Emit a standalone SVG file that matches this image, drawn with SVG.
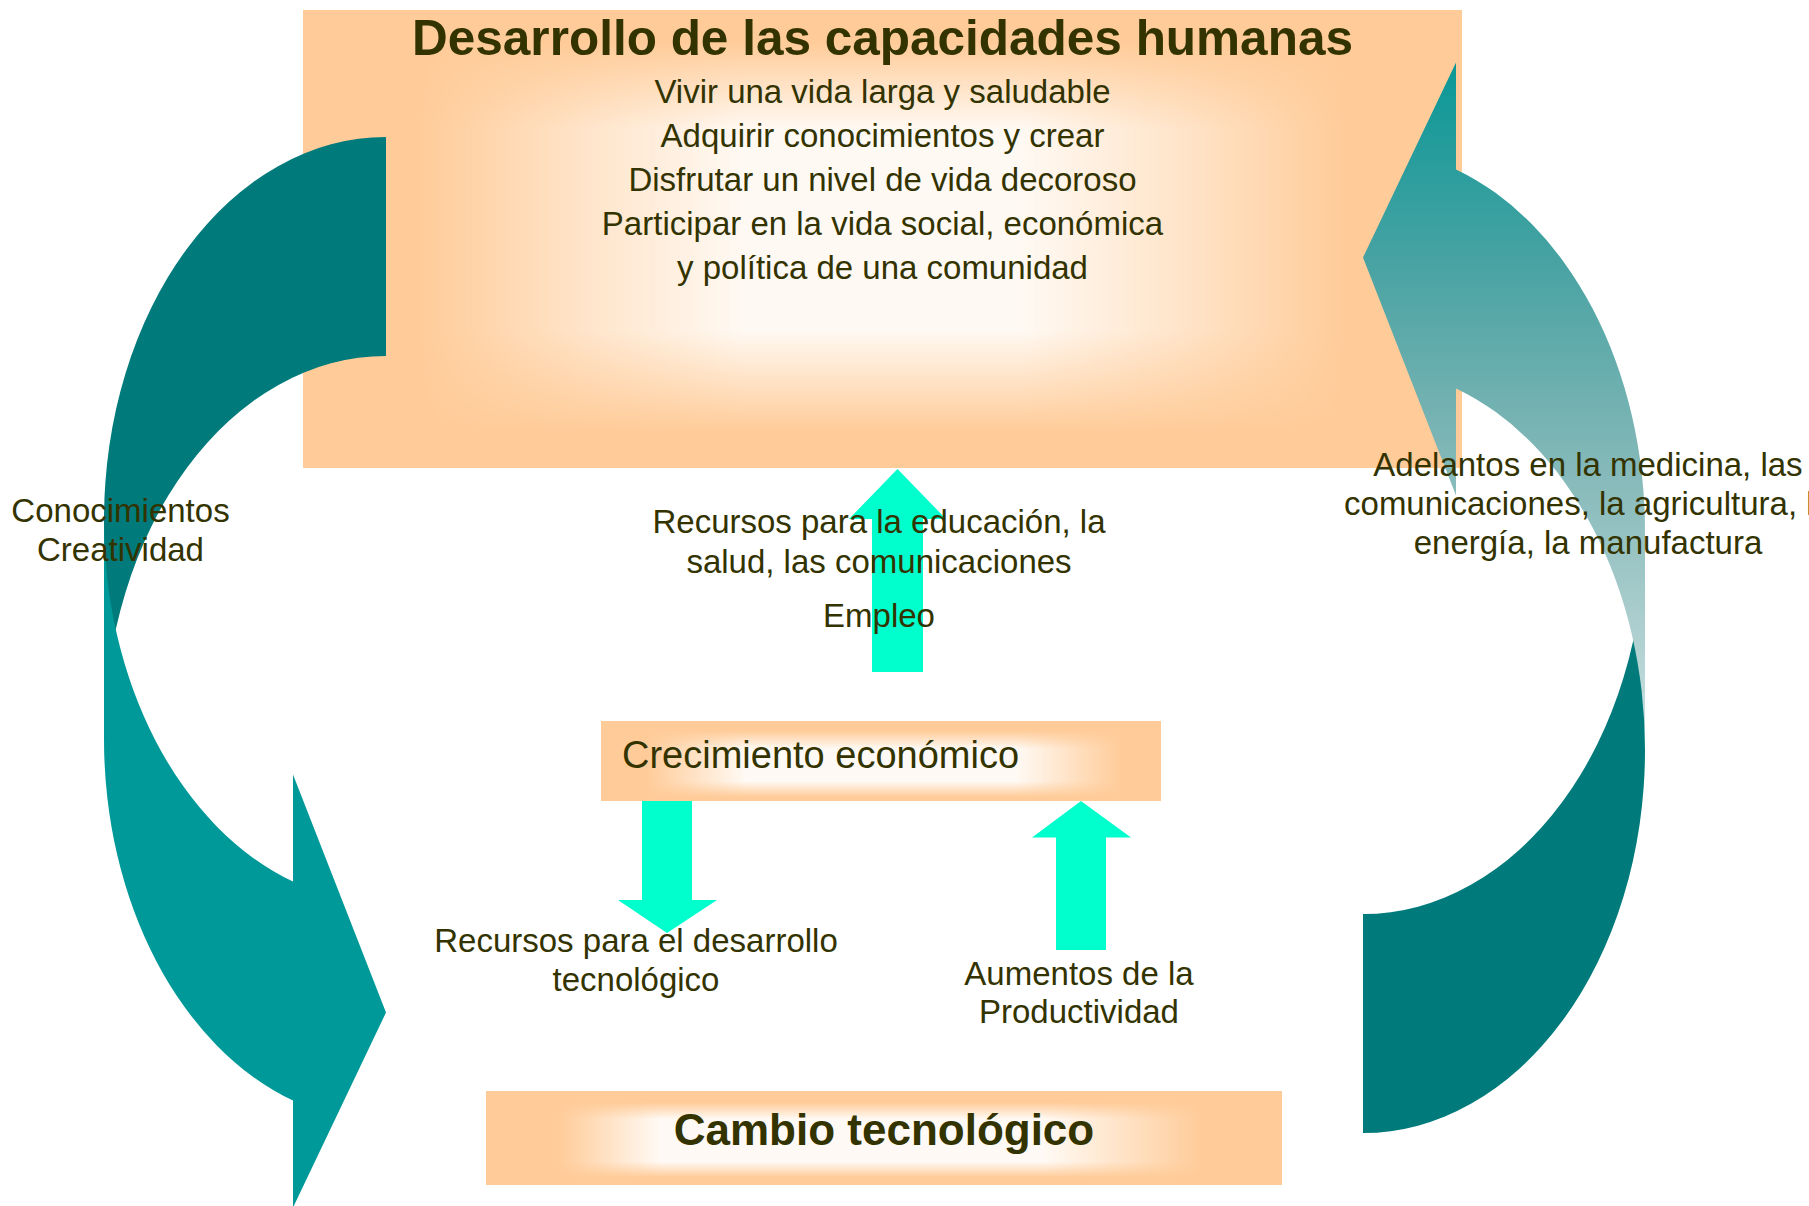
<svg xmlns="http://www.w3.org/2000/svg" width="1809" height="1206" viewBox="0 0 1809 1206">
<style>
  .t { font-family: "Liberation Sans", Arial, sans-serif; fill: #333300; }
  .body { font-size: 33px; text-anchor: middle; }
  .lbl { font-size: 33px; text-anchor: middle; }
  .bold { font-weight: bold; }
  .base { fill: #FFCC99; }
  .cyan { fill: #00FFCC; }
  .back { fill: #007A7A; }
  .front { fill: #009999; }
</style>
<defs>
  <!-- top box -->
  <linearGradient id="hTop" x1="0" y1="0" x2="1" y2="0">
    <stop offset="0" stop-color="#fff" stop-opacity="0"/>
    <stop offset="0.1" stop-color="#fff" stop-opacity="0"/>
    <stop offset="0.25" stop-color="#fff" stop-opacity="0.5"/>
    <stop offset="0.38" stop-color="#fff" stop-opacity="0.88"/>
    <stop offset="0.62" stop-color="#fff" stop-opacity="0.88"/>
    <stop offset="0.75" stop-color="#fff" stop-opacity="0.5"/>
    <stop offset="0.9" stop-color="#fff" stop-opacity="0"/>
    <stop offset="1" stop-color="#fff" stop-opacity="0"/>
  </linearGradient>
  <linearGradient id="vTop" x1="0" y1="0" x2="0" y2="1">
    <stop offset="0" stop-color="#000"/>
    <stop offset="0.07" stop-color="#000"/>
    <stop offset="0.26" stop-color="#fff"/>
    <stop offset="0.7" stop-color="#fff"/>
    <stop offset="0.92" stop-color="#000"/>
    <stop offset="1" stop-color="#000"/>
  </linearGradient>
  <mask id="mTop" maskContentUnits="objectBoundingBox">
    <rect x="0" y="0" width="1" height="1" fill="url(#vTop)"/>
  </mask>
  <!-- crecimiento box -->
  <linearGradient id="hCre" x1="0" y1="0" x2="1" y2="0">
    <stop offset="0" stop-color="#fff" stop-opacity="0"/>
    <stop offset="0.08" stop-color="#fff" stop-opacity="0"/>
    <stop offset="0.26" stop-color="#fff" stop-opacity="0.9"/>
    <stop offset="0.74" stop-color="#fff" stop-opacity="0.9"/>
    <stop offset="0.93" stop-color="#fff" stop-opacity="0"/>
    <stop offset="1" stop-color="#fff" stop-opacity="0"/>
  </linearGradient>
  <linearGradient id="vCre" x1="0" y1="0" x2="0" y2="1">
    <stop offset="0" stop-color="#000"/>
    <stop offset="0.12" stop-color="#000"/>
    <stop offset="0.35" stop-color="#fff"/>
    <stop offset="0.75" stop-color="#fff"/>
    <stop offset="0.95" stop-color="#000"/>
    <stop offset="1" stop-color="#000"/>
  </linearGradient>
  <mask id="mCre" maskContentUnits="objectBoundingBox">
    <rect x="0" y="0" width="1" height="1" fill="url(#vCre)"/>
  </mask>
  <!-- cambio box -->
  <linearGradient id="hCam" x1="0" y1="0" x2="1" y2="0">
    <stop offset="0" stop-color="#fff" stop-opacity="0"/>
    <stop offset="0.09" stop-color="#fff" stop-opacity="0"/>
    <stop offset="0.22" stop-color="#fff" stop-opacity="0.9"/>
    <stop offset="0.7" stop-color="#fff" stop-opacity="0.9"/>
    <stop offset="0.9" stop-color="#fff" stop-opacity="0"/>
    <stop offset="1" stop-color="#fff" stop-opacity="0"/>
  </linearGradient>
  <linearGradient id="vCam" x1="0" y1="0" x2="0" y2="1">
    <stop offset="0" stop-color="#000"/>
    <stop offset="0.12" stop-color="#000"/>
    <stop offset="0.3" stop-color="#fff"/>
    <stop offset="0.75" stop-color="#fff"/>
    <stop offset="0.92" stop-color="#000"/>
    <stop offset="1" stop-color="#000"/>
  </linearGradient>
  <mask id="mCam" maskContentUnits="objectBoundingBox">
    <rect x="0" y="0" width="1" height="1" fill="url(#vCam)"/>
  </mask>
  <!-- right curved arrow gradient -->
  <linearGradient id="gRight" gradientUnits="userSpaceOnUse" x1="0" y1="62" x2="0" y2="750">
    <stop offset="0" stop-color="#0A9797"/>
    <stop offset="0.3" stop-color="#4AA3A3"/>
    <stop offset="0.55" stop-color="#7DB5B5"/>
    <stop offset="0.8" stop-color="#A9CCCC"/>
    <stop offset="1" stop-color="#CCE2E2"/>
  </linearGradient>
</defs>

<g id="node-capacidades">
  <rect class="base" x="303" y="10" width="1159" height="458"/>
  <rect x="303" y="10" width="1159" height="458" fill="url(#hTop)" mask="url(#mTop)"/>
  <text class="t bold" x="882.5" y="55" font-size="49.5" text-anchor="middle">Desarrollo de las capacidades humanas</text>
  <text class="t body" x="882.5" y="102.5">Vivir una vida larga y saludable</text>
  <text class="t body" x="882.5" y="146.5">Adquirir conocimientos y crear</text>
  <text class="t body" x="882.5" y="190.5">Disfrutar un nivel de vida decoroso</text>
  <text class="t body" x="882.5" y="234.5">Participar en la vida social, económica</text>
  <text class="t body" x="882.5" y="278.5">y política de una comunidad</text>
</g>

<g id="node-crecimiento">
  <rect class="base" x="601" y="721" width="560" height="80"/>
  <rect x="601" y="721" width="560" height="80" fill="url(#hCre)" mask="url(#mCre)"/>
  <text class="t" x="622" y="768" font-size="38">Crecimiento económico</text>
</g>

<g id="node-cambio">
  <rect class="base" x="486" y="1091" width="796" height="94"/>
  <rect x="486" y="1091" width="796" height="94" fill="url(#hCam)" mask="url(#mCam)"/>
  <text class="t bold" x="884" y="1145" font-size="44" text-anchor="middle">Cambio tecnológico</text>
</g>

<g id="connectors">
  <!-- left curved arrow: capacidades -> cambio -->
  <path class="back" d="M 104,739 A 282 383 0 0 1 386,356 L 386,137 A 282 383 0 0 0 104,520 Z"/>
  <path class="front" d="M 104,520 A 282 383 0 0 0 293,881.6 L 293,774.6 L 386,1012.5 L 293,1207.6 L 293,1100.6 A 282 383 0 0 1 104,739 Z"/>
  <!-- right curved arrow: cambio -> capacidades -->
  <path class="back" d="M 1645,531 A 282 383 0 0 1 1363,914 L 1363,1133 A 282 383 0 0 0 1645,750 Z"/>
  <path fill="url(#gRight)" d="M 1645,750 A 282 383 0 0 0 1456,388.4 L 1456,495.4 L 1363,257.5 L 1456,62.4 L 1456,169.4 A 282 383 0 0 1 1645,531 Z"/>
  <!-- crecimiento -> capacidades -->
  <polygon class="cyan" points="897.5,469 946,519 923,519 923,672 872,672 872,519 849,519"/>
  <!-- crecimiento -> cambio -->
  <polygon class="cyan" points="642,801 692,801 692,900 717,900 667,933 618,900 642,900"/>
  <!-- cambio -> crecimiento -->
  <polygon class="cyan" points="1081,801 1131,837.5 1106,837.5 1106,950 1056,950 1056,837.5 1032,837.5"/>
</g>

<g id="labels">
  <text class="t lbl" x="879" y="533">Recursos para la educación, la</text>
  <text class="t lbl" x="879" y="573">salud, las comunicaciones</text>
  <text class="t lbl" x="879" y="627">Empleo</text>
  <text class="t lbl" x="120.5" y="522">Conocimientos</text>
  <text class="t lbl" x="120.5" y="561">Creatividad</text>
  <text class="t lbl" x="636" y="952">Recursos para el desarrollo</text>
  <text class="t lbl" x="636" y="991">tecnológico</text>
  <text class="t lbl" x="1079" y="985">Aumentos de la</text>
  <text class="t lbl" x="1079" y="1023">Productividad</text>
  <text class="t lbl" x="1588" y="476">Adelantos en la medicina, las</text>
  <text class="t lbl" x="1588" y="515">comunicaciones, la agricultura, la</text>
  <text class="t lbl" x="1588" y="554">energía, la manufactura</text>
</g>
</svg>
